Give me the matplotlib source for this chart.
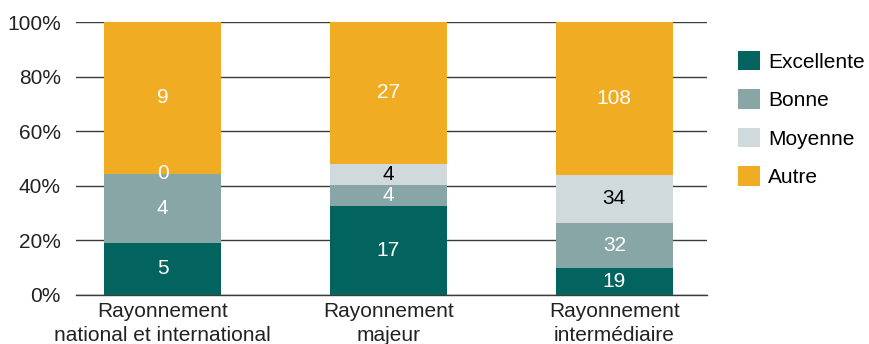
import matplotlib
matplotlib.use('Agg')
import matplotlib.pyplot as plt
from matplotlib.patches import Patch

plt.rcParams['font.family'] = ['Liberation Sans', 'DejaVu Sans']

# categories
categories = ['Rayonnement\nnational et international', 'Rayonnement\nmajeur', 'Rayonnement\nintermédiaire']
series = ['Excellente', 'Bonne', 'Moyenne', 'Autre']

# bar heights in %
excellente = [19.0, 32.7, 9.8]
bonne = [25.4, 7.7, 16.6]
moyenne = [0.0, 7.7, 17.6]
autre = [55.6, 51.9, 56.0]

# numbers written in the bars
lab_excellente = [5, 17, 19]
lab_bonne = [4, 4, 32]
lab_moyenne = [0, 4, 34]
lab_autre = [9, 27, 108]

colors = ['#03635f', '#88a6a5', '#d0d9dc', '#f0ac22']
values = [excellente, bonne, moyenne, autre]
labels = [lab_excellente, lab_bonne, lab_moyenne, lab_autre]

fs = 15

fig = plt.figure(figsize=(8.7, 3.44), dpi=100)
ax = fig.add_axes([76/870, 49.3/344, 631/870, 272.7/344])

x = range(len(categories))
bottom = [0, 0, 0]
for s in range(len(series)):
    ax.bar(x, values[s], bottom=bottom, width=0.52, color=colors[s], zorder=2)
    for i in x:
        c = 'black' if (s == 2 and labels[s][i] != 0) else 'white'
        ax.text(i, bottom[i] + values[s][i] / 2, str(labels[s][i]), ha='center', va='center',
                fontsize=fs, color=c, zorder=3)
    bottom = [bottom[i] + values[s][i] for i in x]

ax.set_ylim(0, 100)
ax.set_xlim(-0.383, 2.41)
ax.set_yticks([0, 20, 40, 60, 80, 100])
ax.set_yticklabels(['%d%%' % v for v in [0, 20, 40, 60, 80, 100]])
ax.set_xticks(list(x))
ax.set_xticklabels(categories, linespacing=1.35)
ax.tick_params(axis='y', length=0, pad=11, labelsize=fs, colors='#222222')
ax.tick_params(axis='x', length=0, pad=5, labelsize=fs, colors='#222222')
ax.grid(axis='y', color='#3a3a3a', linewidth=1, zorder=1)
ax.axhline(0, color='#3a3a3a', linewidth=1, zorder=1, clip_on=False)
for sp in ax.spines.values():
    sp.set_visible(False)

handles = [Patch(facecolor=colors[s], label=series[s]) for s in range(len(series))]
fig.legend(handles=handles, loc='upper left', bbox_to_anchor=(738/870, 1 - 51/344),
           frameon=False, fontsize=fs, handlelength=1.05, handleheight=1.05,
           handletextpad=0.4, labelspacing=0.85, borderpad=0, borderaxespad=0)

fig.savefig('out.png', dpi=100)
